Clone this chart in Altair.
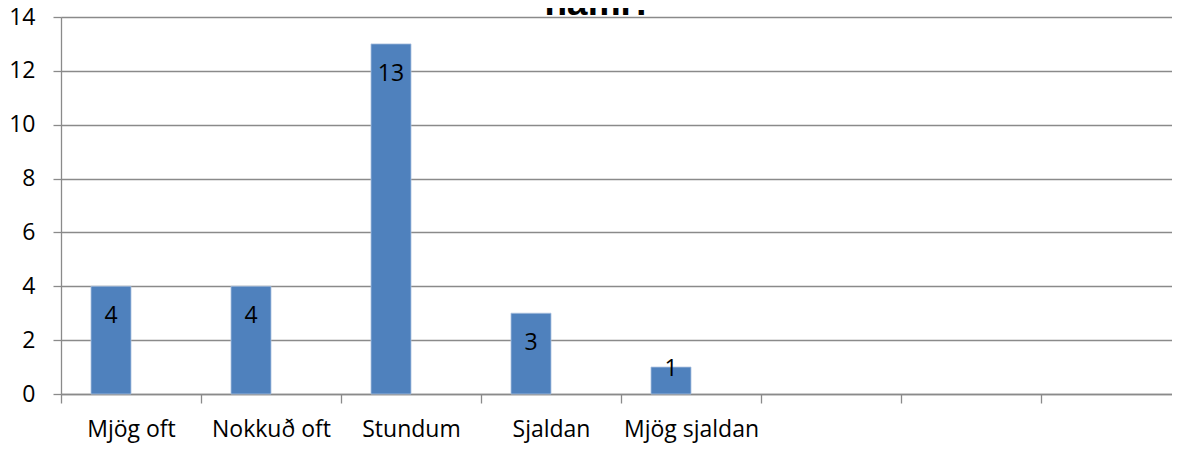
import altair as alt
import pandas as pd

# ---- data ----
categories = ["Mjög oft", "Nokkuð oft", "Stundum", "Sjaldan", "Mjög sjaldan"]
counts = [4, 4, 13, 3, 1]
empty_slots = ["", " ", "  "]          # three unlabeled category slots on the right
y_ticks = [0, 2, 4, 6, 8, 10, 12, 14]
title_text = ["námi?"]                  # only the tail of the title is visible (cut off at top)

df = pd.DataFrame({"cat": categories, "n": counts})
title_df = pd.DataFrame({"t": title_text})
slots = categories + empty_slots

FONT = "Open Sans"
GRID = "#8a8a8a"
BAR = "#4F81BD"

# 8 bands of 140px; the last band runs past the right edge as in the reference
x_scale = alt.Scale(domain=slots, paddingInner=0, paddingOuter=0, round=False, range=[0, 1120])
x_enc = alt.X(
    "cat:N",
    sort=slots,
    scale=x_scale,
    axis=alt.Axis(
        title=None, labelAngle=0, tickBand="extent", tickSize=9, labelPadding=15,
        labelFontSize=23, labelFont=FONT, labelColor="black",
        domainColor=GRID, tickColor=GRID, domainWidth=1.3, tickWidth=1.3, grid=False,
    ),
)
y_scale = alt.Scale(domain=[0, 14], nice=False, zero=True)
y_enc = alt.Y(
    "n:Q",
    scale=y_scale,
    axis=alt.Axis(
        title=None, values=y_ticks, tickSize=8, labelPadding=18,
        labelFontSize=23, labelFont=FONT, labelColor="black",
        domainColor=GRID, tickColor=GRID, domainWidth=1.3, tickWidth=1.3,
        grid=True, gridColor=GRID, gridWidth=1.3,
    ),
)

bars = alt.Chart(df).mark_bar(
    size=40, xOffset=-20, color=BAR, stroke="#a9c0e0", strokeWidth=0.8
).encode(x=x_enc, y=y_enc)

labels = alt.Chart(df).transform_calculate(
    ly="max(datum.n - 1.1, 0.91)"
).mark_text(
    xOffset=-20, baseline="middle", align="center", fontSize=23, font=FONT, color="black"
).encode(
    x=alt.X("cat:N", sort=slots, scale=x_scale),
    y=alt.Y("ly:Q", scale=y_scale),
    text=alt.Text("n:Q"),
)

# chart title, mostly cut off by the top edge as in the reference
title = alt.Chart(title_df).mark_text(
    fontSize=37, font="Liberation Sans", fontWeight="bold", color="black",
    align="center", baseline="alphabetic",
).encode(
    x=alt.value(538), y=alt.value(-2), text="t:N",
)

chart = alt.layer(bars, labels, title).properties(
    width=1111,
    height=377,
    padding={"left": 53, "top": 9, "right": 0, "bottom": 49},
    autosize=alt.AutoSizeParams(type="none"),
).configure_view(stroke=None).configure(background="white")

chart.save("out.html", embed_options={"renderer": "svg", "actions": False})
